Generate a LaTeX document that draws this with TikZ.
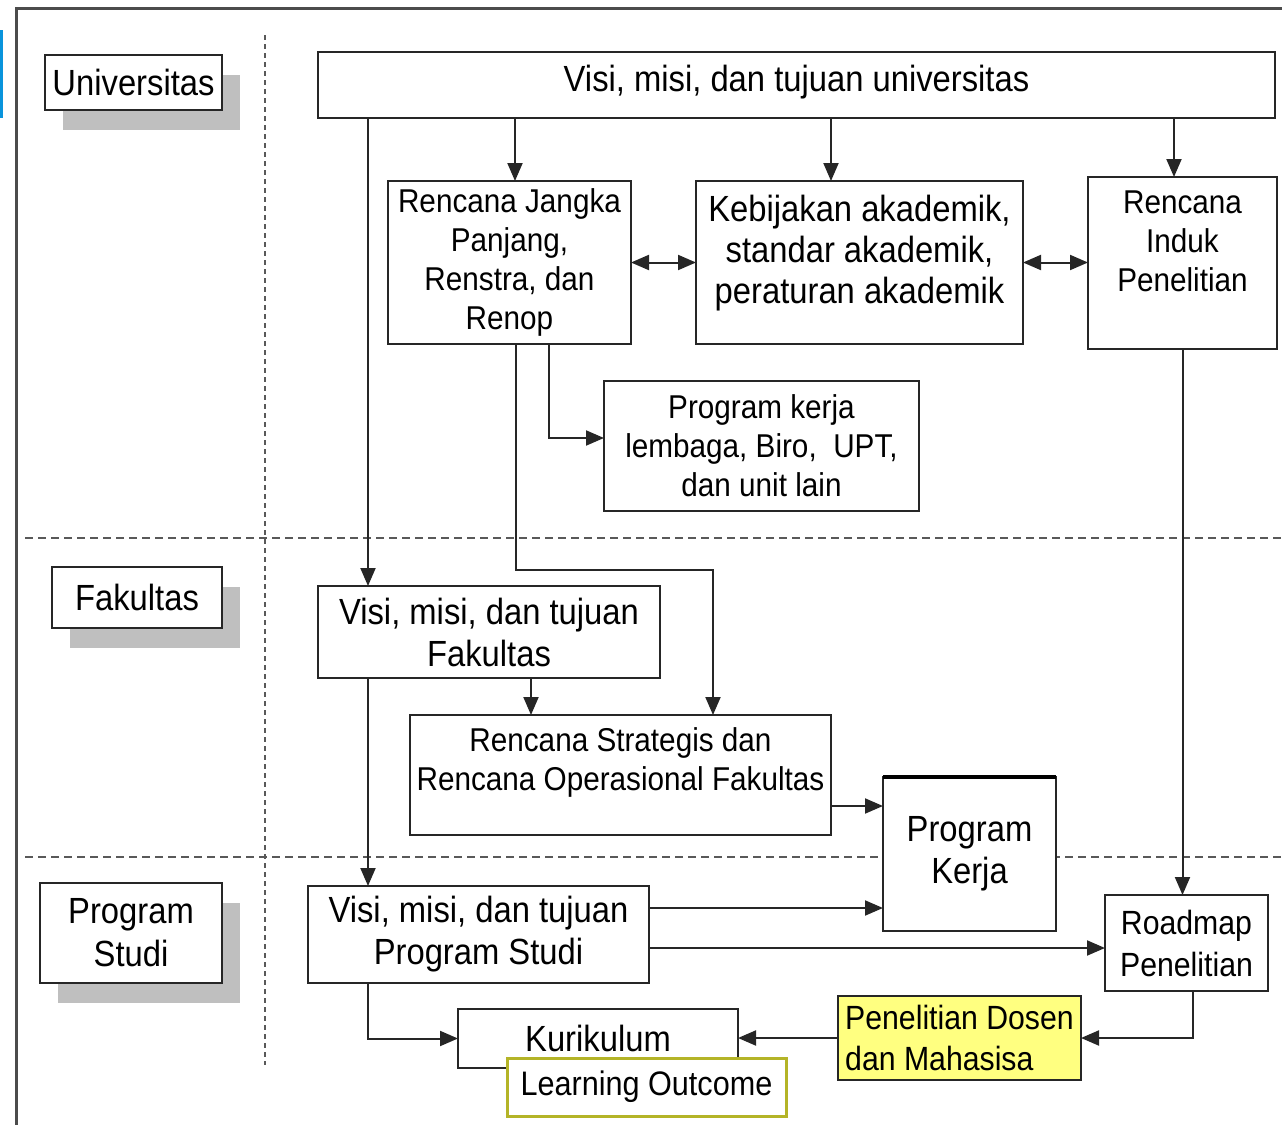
\documentclass[tikz,border=0pt]{standalone}
\usepackage{fontspec}
\setmainfont{Liberation Sans}[FakeStretch=0.9]
\usepackage{tikz}
\usetikzlibrary{arrows.meta}
\usetikzlibrary{shadows}
\definecolor{penfill}{HTML}{FFFF80}
\definecolor{loline}{HTML}{B4B428}
\tikzset{
  box/.style={draw=black!85, line width=1pt, inner sep=0pt, outer sep=0pt, align=center, fill=white},
  topbox/.style={box, anchor=north, align=flush center},
  big/.style={font=\fontsize{18.2pt}{21pt}\selectfont},
  small/.style={font=\fontsize{16.5pt}{19.5pt}\selectfont},
  lvl/.style={box, big, drop shadow={shadow xshift=9pt, shadow yshift=-10pt, fill=gray!50, opacity=1}},
  link/.style={-{Triangle[length=9pt,width=7.5pt]}, line width=1pt, black!85},
  dlink/.style={{Triangle[length=9pt,width=7.5pt]}-{Triangle[length=9pt,width=7.5pt]}, line width=1pt, black!85},
  sep/.style={black!65, line width=1.2pt, dash pattern=on 4pt off 2.5pt}
}
\begin{document}
\begin{tikzpicture}[x=0.5pt,y=-0.5pt]
\useasboundingbox (0,0) rectangle (1282,1125);
\fill[cyan!80!blue] (0,30) rectangle (3,118);
\draw[black!70, line width=1.5pt] (16,1125) -- (16,8) -- (1282,8);

\draw[sep, line width=1.4pt, dash pattern=on 2.5pt off 2pt] (265,35) -- (265,1065);
\draw[sep] (25,538) -- (1282,538);
\draw[sep] (25,857) -- (1282,857);

\node[lvl] (univ) at (133.5,82.5) [minimum width=88.5pt, minimum height=27.5pt] {Universitas};
\node[lvl] (fak) at (137,597.5) [minimum width=85pt, minimum height=30.5pt] {Fakultas};
\node[lvl, font=\fontsize{18.2pt}{21.5pt}\selectfont] (prodi) at (131,933) [minimum width=91pt, minimum height=50pt] {Program\\Studi};

\node[topbox, big, text width=478.5pt, text height=19.5pt, text depth=13.5pt] (vmtu) at (796.5,52) {Visi, misi, dan tujuan universitas};
\node[box, small, minimum width=121.5pt, minimum height=81.5pt] (rjp) at (509.5,262.5) {Rencana Jangka\\Panjang,\\Renstra, dan\\Renop};
\node[topbox, big, text width=163.5pt, text height=20pt, text depth=61.5pt, font=\fontsize{18.2pt}{20.5pt}\selectfont] (kebijakan) at (859.5,181) {Kebijakan akademik,\\standar akademik,\\peraturan akademik};
\node[topbox, small, text width=94.5pt, text height=18.25pt, text depth=67.75pt] (rip) at (1182.5,177) {Rencana\\Induk\\Penelitian};
\node[box, small, minimum width=157.5pt, minimum height=65pt] (pklembaga) at (761.5,446) {Program kerja\\lembaga, Biro,\ \ UPT,\\dan unit lain};
\node[box, big, minimum width=171pt, minimum height=46pt] (vmtf) at (489,632) {Visi, misi, dan tujuan\\Fakultas};
\node[topbox, small, text width=210.5pt, text height=18.25pt, text depth=41.75pt] (rsf) at (620.5,715) {Rencana Strategis dan\\Rencana Operasional Fakultas};
\node[box, big, minimum width=86.5pt, minimum height=77pt] (pkerja) at (969.5,854) {Program\\Kerja};
\node[box, big, minimum width=170.5pt, minimum height=48.5pt] (vmtp) at (478.5,934.5) {Visi, misi, dan tujuan\\Program Studi};
\node[box, small, minimum width=81.5pt, minimum height=48pt, font=\fontsize{16.8pt}{21pt}\selectfont] (roadmap) at (1186.5,943) {Roadmap\\Penelitian};
\node[box, big, minimum width=140pt, minimum height=29.5pt] (kurikulum) at (598,1038.5) {Kurikulum};
\node[box, draw=loline, line width=1.5pt, font=\fontsize{17pt}{20pt}\selectfont, minimum width=139.5pt, minimum height=29pt] (lo) at (646.5,1087) {Learning Outcome};
\node[box, fill=penfill, align=left, font=\fontsize{16.8pt}{20.5pt}\selectfont, minimum width=121.5pt, minimum height=42pt] (pdm) at (959.5,1038) {Penelitian Dosen\\dan Mahasisa};
\draw[black, line width=2pt] (pkerja.north west) -- (pkerja.north east);

\draw[link] ([xshift=2.75pt]rjp.north |- vmtu.south) -- ([xshift=2.75pt]rjp.north);
\draw[link] ([xshift=-14.25pt]kebijakan.north |- vmtu.south) -- ([xshift=-14.25pt]kebijakan.north);
\draw[link] ([xshift=-4.25pt]rip.north |- vmtu.south) -- ([xshift=-4.25pt]rip.north);
\draw[link] ([xshift=25pt]vmtf.north west |- vmtu.south) -- ([xshift=25pt]vmtf.north west);
\draw[dlink] (rjp.east) -- (rjp.east -| kebijakan.west);
\draw[dlink] (kebijakan.east) -- (kebijakan.east -| rip.west);
\draw[link] ([xshift=19.75pt]rjp.south) |- ([yshift=4pt]pklembaga.west);
\draw[link] ([xshift=3.25pt]rjp.south) -- ++(0,226) -| ([xshift=46.25pt]rsf.north);
\draw[link] ([xshift=21pt]vmtf.south) -- ([xshift=21pt]vmtf.south |- rsf.north);
\draw[link] ([xshift=25pt]vmtf.south west) -- ([xshift=25pt]vmtf.south west |- vmtp.north);
\draw[link] ([yshift=-15.5pt]rsf.east) -- ([yshift=-15.5pt]rsf.east -| pkerja.west);
\draw[link] ([yshift=13.25pt]vmtp.east) -- ([yshift=13.25pt]vmtp.east -| pkerja.west);
\draw[link] ([yshift=-6.75pt]vmtp.east) -- ([yshift=-6.75pt]vmtp.east -| roadmap.west);
\draw[link] (rip.south) -- (rip.south |- roadmap.north);
\draw[link] ([xshift=3.25pt]roadmap.south) |- (pdm.east);
\draw[link] (pdm.west) -- (pdm.west -| kurikulum.east);
\draw[link] ([xshift=30pt]vmtp.south west) |- (kurikulum.west);
\end{tikzpicture}
\end{document}
